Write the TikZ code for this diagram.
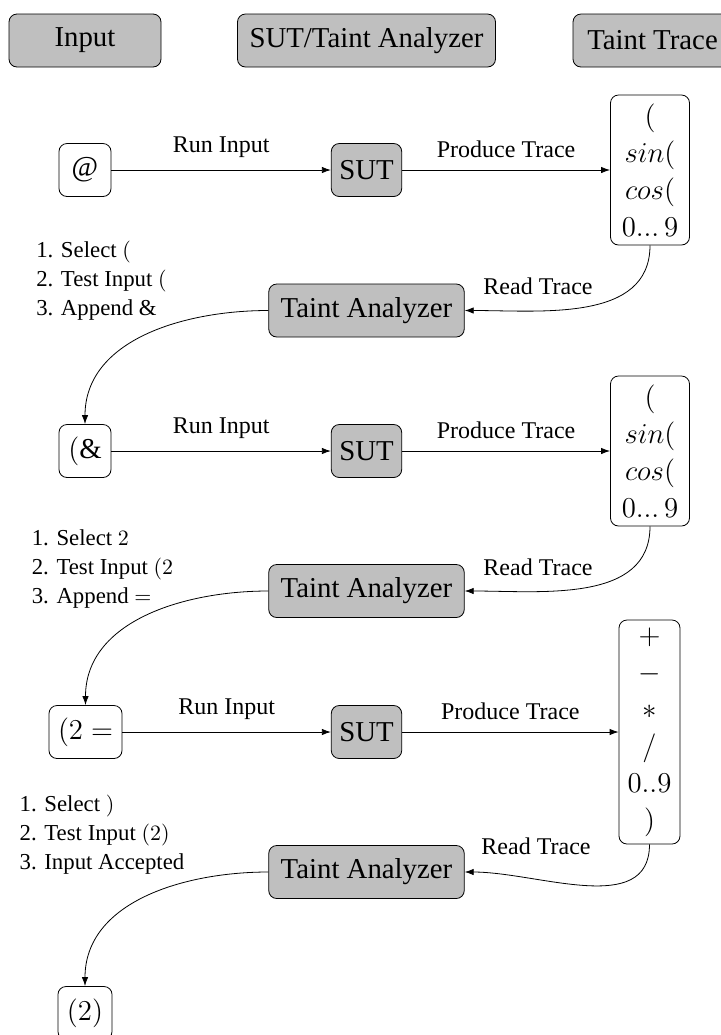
\documentclass[tikz,border=0pt]{standalone}
\usepackage{fontspec}
\setmainfont{Liberation Serif}
\usetikzlibrary{arrows.meta}
\tikzset{
  box/.style={draw, rounded corners=4pt, inner ysep=0pt, align=center},
  gbox/.style={box, fill=lightgray},
  bigfont/.style={font=\fontsize{14.4}{18.5}\selectfont},
  hdr/.style={gbox, bigfont, minimum height=26.5pt},
  innode/.style={box, bigfont, minimum width=26pt, minimum height=26.5pt, inner xsep=4.5pt},
  sutnode/.style={gbox, bigfont, minimum height=26.5pt, inner xsep=4pt},
  tanode/.style={gbox, bigfont, minimum height=26.5pt, inner xsep=6pt},
  tracebox/.style={box, bigfont, inner xsep=3pt, inner ysep=3pt},
  elabel/.style={font=\fontsize{12}{14}\selectfont},
  steps/.style={font=\fontsize{11.4}{14.5}\selectfont, align=left},
  arr/.style={-{Latex[length=4.5pt,width=3.2pt]}},
}
\begin{document}
\begin{tikzpicture}[x=0.5pt, y=-0.5pt]
\useasboundingbox (0,0) rectangle (720,1035);

% headers
\node[hdr, minimum width=76pt] (hin) at (85,40.5) {Input};
\node[hdr, minimum width=129pt] (hsut) at (366.5,40.5) {SUT/Taint Analyzer};
\node[hdr, minimum width=79.5pt] (htt) at (652.5,40.5) {Taint Trace};

% row 1
\node[innode] (in1) at (85,170) {$@$};
\node[sutnode] (sut1) at (366.5,170) {SUT};
\node[tracebox, minimum width=39.5pt, minimum height=75pt] (tr1) at (650,170)
  {$($\\$sin($\\$cos($\\$0...\,9$};
\node[tanode] (ta1) at (366.5,310.5) {Taint Analyzer};
\node[steps] (st1) at (101.5,281) {1. Select $($\\2. Test Input $($\\3. Append $\&$};
\node[elabel] (rt1) at (538,286) {Read Trace};

% row 2
\node[innode] (in2) at (85,451) {$(\&$};
\node[sutnode] (sut2) at (366.5,451) {SUT};
\node[tracebox, minimum width=39.5pt, minimum height=75pt] (tr2) at (650,451)
  {$($\\$sin($\\$cos($\\$0...\,9$};
\node[tanode] (ta2) at (366.5,591) {Taint Analyzer};
\node[steps] (st2) at (102.5,569) {1. Select $2$\\2. Test Input $(2$\\3. Append $=$};
\node[elabel] (rt2) at (538,567) {Read Trace};

% row 3
\node[innode] (in3) at (85.5,732) {$(2 =$};
\node[sutnode] (sut3) at (366.5,732) {SUT};
\node[tracebox, minimum width=30.5pt, minimum height=112pt] (tr3) at (649.5,732)
  {$+$\\$-$\\$*$\\$/$\\$0..9$\\$)$};
\node[tanode] (ta3) at (366.5,872) {Taint Analyzer};
\node[steps] (st3) at (102,835) {1. Select $)$\\2. Test Input $(2)$\\3. Input Accepted};
\node[elabel] (rt3) at (536,846) {Read Trace};

% final
\node[innode] (in4) at (85,1013) {$(2)$};

% connectors
\draw[arr] (in1) -- node[elabel, midway, above=2.5pt] {Run Input} (sut1);
\draw[arr] (sut1) -- node[elabel, midway, above=2.5pt] {Produce Trace} (tr1);
\draw[arr] (tr1.south) to[out=-90, in=0] (ta1.east);
\draw[arr] (ta1.west) to[out=180, in=90] (in2.north);

\draw[arr] (in2) -- node[elabel, midway, above=2.5pt] {Run Input} (sut2);
\draw[arr] (sut2) -- node[elabel, midway, above=2.5pt] {Produce Trace} (tr2);
\draw[arr] (tr2.south) to[out=-90, in=0] (ta2.east);
\draw[arr] (ta2.west) to[out=180, in=90] (in3.north);

\draw[arr] (in3) -- node[elabel, midway, above=2.5pt] {Run Input} (sut3);
\draw[arr] (sut3) -- node[elabel, midway, above=2.5pt] {Produce Trace} (tr3);
\draw[arr] (tr3.south) to[out=-90, in=0] (ta3.east);
\draw[arr] (ta3.west) to[out=180, in=90] (in4.north);
\end{tikzpicture}
\end{document}
